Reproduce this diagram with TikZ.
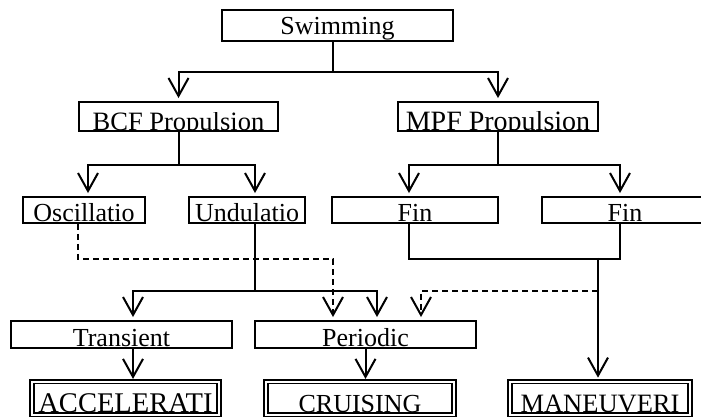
\documentclass[tikz,border=0pt]{standalone}
\usepackage{fontspec}
\setmainfont{Liberation Serif}
\usepackage{trimclip}
\usetikzlibrary{arrows.meta}

% text whose descenders are cut by the box edge
\newcommand\cutdesc[1]{\clipbox{0pt {\depth} 0pt 0pt}{#1}}

\begin{document}
\begin{tikzpicture}[x=1pt,y=-1pt,
  box/.style={draw,line width=1.9pt,inner sep=0pt,font=\fontsize{26}{26}\selectfont},
  endbox/.style={box,double,double distance=2pt,line width=1.7pt},
  link/.style={line width=2pt},
  arr/.style={link,-{Straight Barb[length=18pt,width=20pt]},shorten >=3pt},
  dashlink/.style={arr,dash pattern=on 6pt off 4pt}]
  \useasboundingbox (0,0) rectangle (701,419);
  \node[box,minimum width=231pt,text height=25pt,text depth=6pt] (swim) at (337.5,25.5) {Swimming};
  \node[box,minimum width=199pt,text height=29pt,text depth=0pt,font=\fontsize{26.5}{26}\selectfont] (bcf) at (178.5,116.5) {\cutdesc{BCF Propulsion}};
  \node[box,minimum width=200pt,text height=29pt,text depth=0pt,font=\fontsize{28}{26}\selectfont] (mpf) at (498,116.5) {\cutdesc{MPF Propulsion}};
  \node[box,minimum width=122pt,text height=25pt,text depth=1pt] (osc) at (84,210) {Oscillatio};
  \node[box,minimum width=116pt,text height=25pt,text depth=1pt] (und) at (247,210) {Undulatio};
  \node[box,minimum width=166pt,text height=25pt,text depth=1pt] (fina) at (415,210) {Fin};
  \node[box,minimum width=166pt,text height=25pt,text depth=1pt] (finb) at (625,210) {Fin};
  \node[box,minimum width=221pt,text height=26pt,text depth=1pt] (trans) at (121.5,334.5) {Transient};
  \node[box,minimum width=221pt,text height=26pt,text depth=1pt] (per) at (365.5,334.5) {Periodic};
  \node[endbox,minimum width=187pt,text height=31pt,text depth=2pt,font=\fontsize{28.5}{26}\selectfont] (acc) at (125.5,398) {ACCELERATI};
  \node[endbox,minimum width=188pt,text height=31pt,text depth=2pt] (cru) at (360,398) {CRUISING};
  \node[endbox,minimum width=180pt,text height=31pt,text depth=2pt,font=\fontsize{26.5}{26}\selectfont] (man) at (600,398) {MANEUVERI};

  \draw[link] ([xshift=-4.5]swim.south) -- ++(0,30) coordinate (sj);
  \draw[arr] (sj) -| (bcf.north);
  \draw[arr] (sj) -| (mpf.north);

  \draw[link] (bcf.south) -- ++(0,33) coordinate (bj);
  \draw[arr] (bj) -| ([xshift=4]osc.north);
  \draw[arr] (bj) -| ([xshift=8]und.north);
  \draw[link] (mpf.south) -- ++(0,33) coordinate (mj);
  \draw[arr] (mj) -| ([xshift=-6]fina.north);
  \draw[arr] (mj) -| ([xshift=-5]finb.north);

  \draw[dashlink] ([xshift=-6]osc.south) -- ++(0,35) -| ([xshift=-32.5]per.north);
  \draw[link] ([xshift=8]und.south) -- ++(0,67) coordinate (uj);
  \draw[arr] (uj) -| ([xshift=11.5]trans.north);
  \draw[arr] (uj) -| ([xshift=11.5]per.north);

  \draw[link] ([xshift=-6]fina.south) -- ++(0,35) -| ([xshift=-5]finb.south);
  \coordinate (fj) at (598,258);
  \draw[arr] (fj) -- (fj |- man.north);
  \draw[dashlink] (fj |- uj) -| ([xshift=55.5]per.north);

  \draw[arr] ([xshift=11.5]trans.south) -- ++(0,33);
  \draw[arr] (per.south) -- ++(0,33);
\end{tikzpicture}
\end{document}
